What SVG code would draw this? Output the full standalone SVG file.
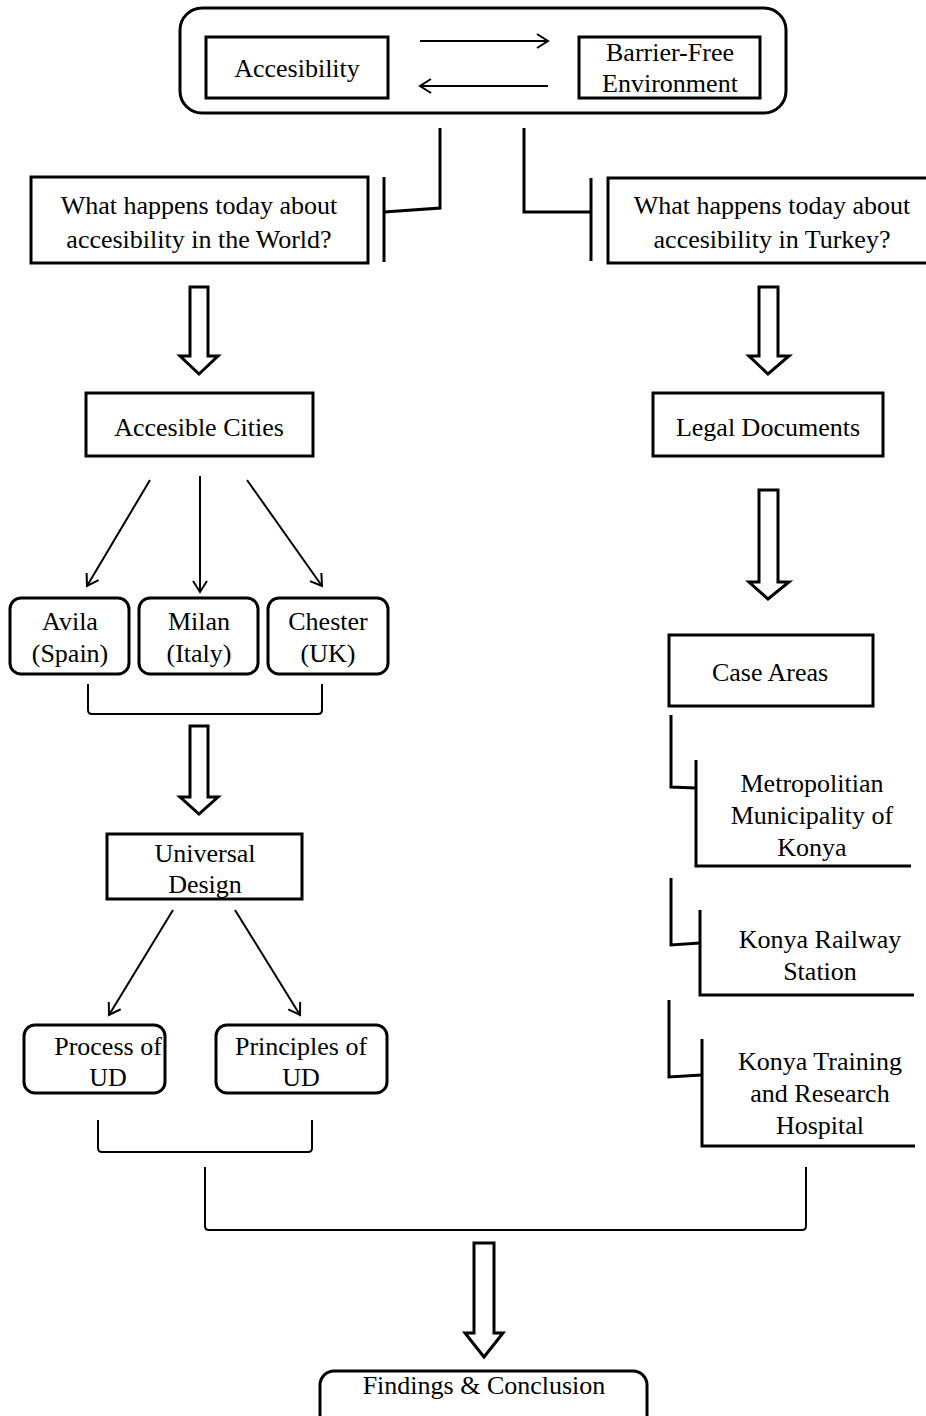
<svg xmlns="http://www.w3.org/2000/svg" width="926" height="1416" viewBox="0 0 926 1416">
<style>
.box{fill:#fff;stroke:#000;stroke-width:3}
.ln{fill:none;stroke:#000;stroke-width:2}
.br{fill:none;stroke:#000;stroke-width:3}
.blk{fill:#fff;stroke:#000;stroke-width:3;stroke-linejoin:miter}
text{font-family:"Liberation Serif","Times New Roman",serif;font-size:26px;fill:#000;text-anchor:middle}
</style>
<defs>
<marker id="ah" markerWidth="14" markerHeight="16" refX="12" refY="8" orient="auto" markerUnits="userSpaceOnUse">
<path d="M1,1 L12,8 L1,15" fill="none" stroke="#000" stroke-width="2"/>
</marker>
</defs>
<rect width="926" height="1416" fill="#fff"/>

<g id="top-frame"><rect class="box" x="180" y="8" width="606" height="105" rx="22"/></g>
<g id="accesibility"><rect class="box" x="206" y="37" width="182" height="61"/><text x="297" y="77">Accesibility</text></g>
<g id="barrier-free"><rect class="box" x="579" y="37" width="181" height="61"/><text x="670" y="61">Barrier-Free</text><text x="670" y="92">Environment</text></g>

<g id="world"><rect class="box" x="31" y="177" width="337" height="86"/><text x="199" y="214">What happens today about</text><text x="199" y="248">accesibility in the World?</text></g>
<g id="turkey"><rect class="box" x="608" y="178" width="330" height="85"/><text x="772" y="214">What happens today about</text><text x="772" y="248">accesibility in Turkey?</text></g>

<g id="accesible-cities"><rect class="box" x="86" y="393" width="227" height="63"/><text x="199" y="436">Accesible Cities</text></g>
<g id="legal"><rect class="box" x="653" y="393" width="230" height="63"/><text x="768" y="436">Legal Documents</text></g>
<g id="avila"><rect class="box" x="10" y="598" width="119" height="76" rx="11"/><text x="70" y="630">Avila</text><text x="70" y="662">(Spain)</text></g>
<g id="milan"><rect class="box" x="139" y="598" width="119" height="76" rx="11"/><text x="199" y="630">Milan</text><text x="199" y="662">(Italy)</text></g>
<g id="chester"><rect class="box" x="268" y="598" width="120" height="76" rx="11"/><text x="328" y="630">Chester</text><text x="328" y="662">(UK)</text></g>
<g id="case-areas"><rect class="box" x="669" y="635" width="204" height="71"/><text x="770" y="681">Case Areas</text></g>
<g id="universal"><rect class="box" x="107" y="834" width="195" height="65"/><text x="205" y="862">Universal</text><text x="205" y="893">Design</text></g>
<g id="process"><rect class="box" x="24" y="1025" width="141" height="68" rx="11"/><text x="108" y="1055">Process of</text><text x="108" y="1086">UD</text></g>
<g id="principles"><rect class="box" x="216" y="1025" width="171" height="68" rx="11"/><text x="301" y="1055">Principles of</text><text x="301" y="1086">UD</text></g>
<g id="metropolitan"><text x="812" y="792">Metropolitian</text><text x="812" y="824">Municipality of</text><text x="812" y="856">Konya</text></g>
<g id="railway"><text x="820" y="948">Konya Railway</text><text x="820" y="980">Station</text></g>
<g id="hospital"><text x="820" y="1070">Konya Training</text><text x="820" y="1102">and Research</text><text x="820" y="1134">Hospital</text></g>
<g id="findings"><rect class="box" x="320" y="1371" width="327" height="60" rx="14"/><text x="484" y="1394">Findings &amp; Conclusion</text></g>

<g id="connectors">
<line class="ln" x1="420" y1="41" x2="548" y2="41" marker-end="url(#ah)"/>
<line class="ln" x1="548" y1="86" x2="420" y2="86" marker-end="url(#ah)"/>
<path class="br" d="M440,128 V208 L384,212"/>
<line class="br" x1="384" y1="177" x2="384" y2="262"/>
<path class="br" d="M524,128 V212 H591"/>
<line class="br" x1="591" y1="178" x2="591" y2="261"/>
<path class="blk" d="M190,287 H208 V356 H218 L199,374 L180,356 H190 Z"/>
<path class="blk" d="M759,287 H778 V356 H789 L768,374 L749,356 H759 Z"/>
<path class="blk" d="M759,490 H778 V582 H789 L768,599 L749,582 H759 Z"/>
<line class="ln" x1="150" y1="480" x2="87" y2="586" marker-end="url(#ah)"/>
<line class="ln" x1="200" y1="476" x2="200" y2="592" marker-end="url(#ah)"/>
<line class="ln" x1="247" y1="480" x2="322" y2="586" marker-end="url(#ah)"/>
<path class="ln" d="M88,684 V710 Q88,714 92,714 H318 Q322,714 322,710 V684"/>
<path class="blk" d="M190,726 H208 V797 H218 L199,814 L180,797 H190 Z"/>
<line class="ln" x1="173" y1="910" x2="109" y2="1015" marker-end="url(#ah)"/>
<line class="ln" x1="235" y1="910" x2="300" y2="1015" marker-end="url(#ah)"/>
<path class="ln" d="M98,1120 V1148 Q98,1152 102,1152 H308 Q312,1152 312,1148 V1120"/>
<path class="ln" d="M205,1167 V1226 Q205,1230 209,1230 H802 Q806,1230 806,1226 V1167"/>
<path class="blk" d="M474,1243 H494 V1333 H503 L484,1357 L465,1333 H474 Z"/>
<path class="br" d="M671,715 V787 L696,788"/>
<path class="br" d="M696,760 V866 H911"/>
<path class="br" d="M671,878 V945 L700,943"/>
<path class="br" d="M700,910 V995 H914"/>
<path class="br" d="M669,1000 V1077 L702,1075"/>
<path class="br" d="M702,1039 V1146 H915"/>
</g>
</svg>
